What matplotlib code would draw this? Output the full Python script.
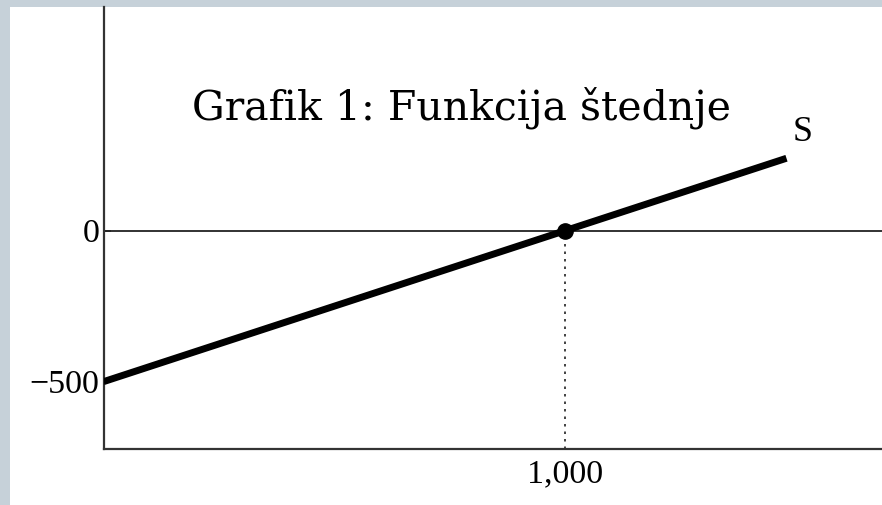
import matplotlib
matplotlib.use("Agg")
import matplotlib.pyplot as plt
import numpy as np

# Data
income = [0, 1480]
savings = [-500, 240]
breakeven_x = 1000
breakeven_y = 0
y_ticks = [0, -500]
y_tick_labels = ["0", "\u2212500"]
x_ticks = [1000]
x_tick_labels = ["1,000"]
title = "Grafik 1: Funkcija štednje"
series_label = "S"

fig = plt.figure(figsize=(8.82, 5.05), dpi=100)
fig.patch.set_facecolor("#c6d1d9")
# white panel
fig.add_artist(plt.Rectangle((10/882, 0), 1 - 10/882, 1 - 7/505,
                             transform=fig.transFigure, facecolor="white",
                             edgecolor="none", zorder=0))

ax = fig.add_axes([103.5/882, 1 - 449.3/505, 1 - 103.5/882, (449.3 - 7)/505])
ax.set_facecolor("none")
ax.set_xlim(0, 1687)
ax.set_ylim(-724, 741)

for s in ["top", "right"]:
    ax.spines[s].set_visible(False)
for s in ["left", "bottom"]:
    ax.spines[s].set_linewidth(1.6)
    ax.spines[s].set_color("#333333")

# zero line
ax.axhline(0, color="#222222", lw=1.3, zorder=2)
# dotted line
ax.plot([breakeven_x, breakeven_x], [ax.get_ylim()[0], breakeven_y],
        color="#222222", lw=1.2, ls=(0, (1.5, 3)), zorder=2)
# savings line
ax.plot(income, savings, color="black", lw=5, solid_capstyle="butt", zorder=3)
ax.plot([breakeven_x], [breakeven_y], marker="o", color="black",
        markersize=11, zorder=4)

serif = ["Liberation Serif", "DejaVu Serif"]
ax.set_yticks(y_ticks)
ax.set_yticklabels(y_tick_labels, family=serif, fontsize=24.5)
ax.set_xticks(x_ticks)
ax.set_xticklabels(x_tick_labels, family=serif, fontsize=24.5)
ax.tick_params(axis="y", direction="in", length=5, width=1.2, pad=3, color="#333333")
ax.tick_params(axis="x", length=0, pad=7)

ax.text(1516, 326, series_label, family=serif, fontsize=26,
        ha="center", va="center")
ax.text(775, 408, title, family=["DejaVu Serif"], fontsize=29.5,
        ha="center", va="center")

fig.savefig("out.png", dpi=100, facecolor=fig.get_facecolor())
